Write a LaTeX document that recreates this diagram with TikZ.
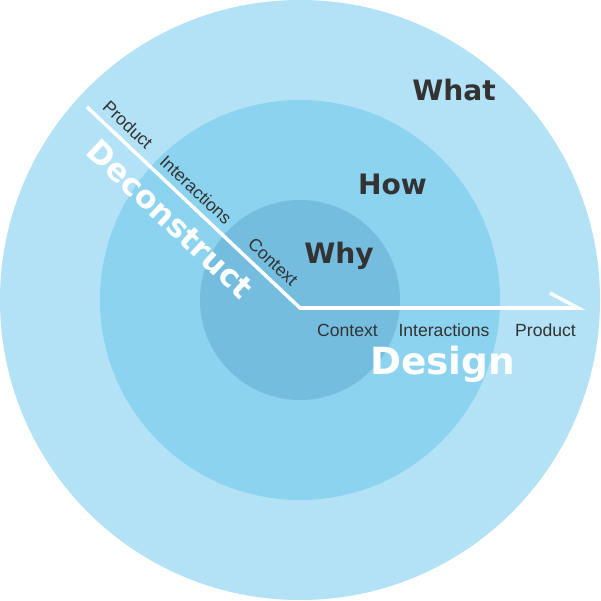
\documentclass[tikz,border=0pt]{standalone}
\usepackage{fontspec}
\setmainfont{Liberation Sans}
\newfontfamily\heavyfont{DejaVu Sans}
\usepackage{xcolor}
\definecolor{ringout}{HTML}{B3E1F6}
\definecolor{ringmid}{HTML}{8CD3F0}
\definecolor{ringin}{HTML}{74BDDF}
\definecolor{labeldark}{HTML}{333333}

\begin{document}
\begin{tikzpicture}[
    steplabel/.style={font=\fontsize{5}{6}\selectfont, text=labeldark, inner sep=0pt},
    ringlabel/.style={font=\heavyfont\bfseries\fontsize{8}{9}\selectfont, text=labeldark, anchor=base, inner sep=0pt},
    phase/.style={text=white, inner sep=0pt}]
    \useasboundingbox (-3.0,-3.01) rectangle (3.01,3.0);

    % the three rings
    \fill[ringout] (0,0) circle (3.0);
    \fill[ringmid] (0,0) circle (2.0);
    \fill[ringin] (0,0) circle (1.0);

    % the path: in from the outside, then back out
    \coordinate (start) at (-2.13,1.93);
    \coordinate (bend) at (0,-0.08);
    \coordinate (tip) at (2.78,-0.08);
    \coordinate (barb) at (2.50,0.07);
    \draw[white, line width=1pt, line join=miter] (start) -- (bend) -- (tip) -- (barb);

    \node[steplabel, rotate=-43.2] (dproduct) at (-1.72,1.75) {Product};
    \node[steplabel, rotate=-43.2] (dinteract) at (-1.04,1.10) {Interactions};
    \node[steplabel, rotate=-43.2] (dcontext) at (-0.27,0.38) {Context};
    \node[phase, rotate=-43.2, font=\heavyfont\bfseries\fontsize{8.9}{10}\selectfont] (deconstruct) at (-1.30,0.81) {Deconstruct};

    \node[steplabel, anchor=base] (ccontext) at (0.475,-0.37) {Context};
    \node[steplabel, anchor=base] (cinteract) at (1.44,-0.37) {Interactions};
    \node[steplabel, anchor=base] (cproduct) at (2.455,-0.37) {Product};
    \node[phase, anchor=base, font=\heavyfont\bfseries\fontsize{10.65}{12}\selectfont] (design) at (1.425,-0.75) {Design};

    \node[ringlabel] (what) at (1.54,1.99) {What};
    \node[ringlabel] (how) at (0.925,1.05) {How};
    \node[ringlabel] (why) at (0.39,0.36) {Why};
\end{tikzpicture}
\end{document}
